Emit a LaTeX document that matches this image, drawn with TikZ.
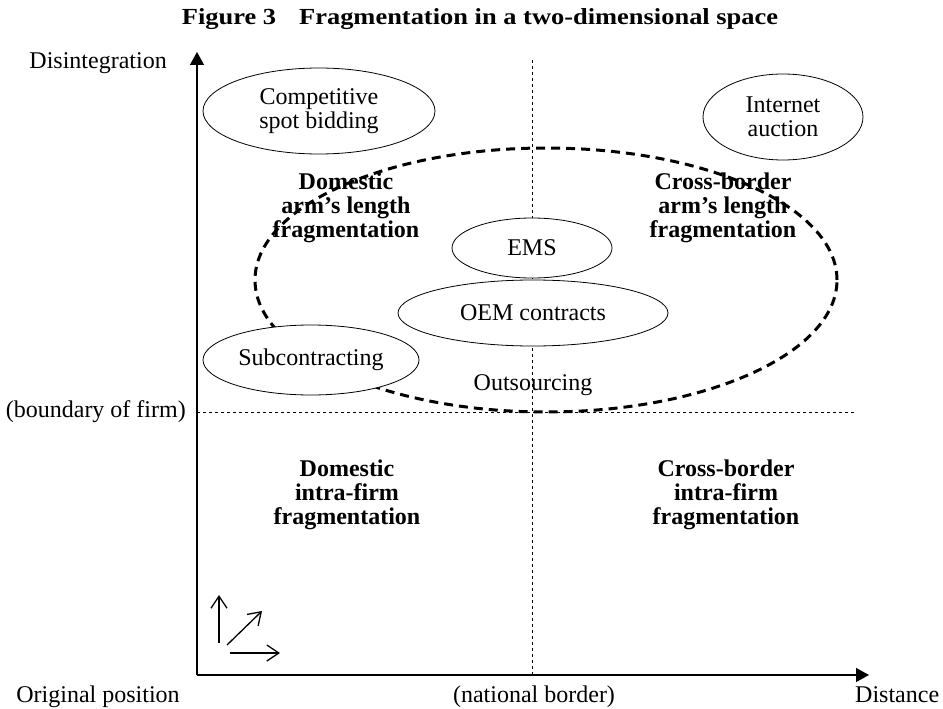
\documentclass[tikz,border=0pt]{standalone}
\usepackage{fontspec}
\setmainfont{Liberation Serif}
\newfontfamily\titlefont{Liberation Serif}[FakeStretch=1.15]
\usetikzlibrary{shapes.geometric,arrows.meta}

\begin{document}
\begin{tikzpicture}[x=1pt,y=-1pt,inner sep=0pt,
 font=\fontsize{24}{24}\selectfont,
 ell/.style={ellipse, draw, fill=white, line width=0.8pt, inner sep=1pt, align=center},
 lab/.style={font=\fontsize{24}{24}\selectfont\bfseries, align=center},
 guide/.style={line width=0.8pt, dash pattern=on 3pt off 3pt},
 axis/.style={line width=1.3pt, -{Triangle[length=13pt,width=14pt]}},
 dir/.style={line width=1.3pt, -{Straight Barb[length=12pt,width=16pt]}}]
 \useasboundingbox (0,0) rectangle (943,709);
 \node[font=\titlefont\fontsize{23}{23}\selectfont\bfseries, anchor=base] (T) at (480,25) {Figure 3\hspace{1em}Fragmentation in a two-dimensional space};

 \coordinate (O) at (197,675);
 \coordinate (Y) at (197,52);
 \coordinate (X) at (869,675);
 \coordinate (N1) at (532,60);
 \coordinate (N2) at (532,675);
 \coordinate (B1) at (197,412);
 \coordinate (B2) at (855,412);
 \draw[guide] (N1) -- (N2);
 \draw[guide] (B1) -- (B2);
 \draw[axis] (O) -- (Y);
 \draw[axis] (O) -- (X);

 \node[ellipse, draw, line width=3pt, dash pattern=on 9pt off 6pt, minimum width=582, minimum height=264] (OUT) at (546,280) {};
 \node[ell, minimum width=232, minimum height=86] (CSB) at (319,111) {Competitive\\spot bidding};
 \node[ell, minimum width=160, minimum height=86] (IA) at (783,117) {Internet\\auction};
 \node[ell, minimum width=160, minimum height=60] (EMS) at (532,248) {EMS};
 \node[ell, minimum width=270, minimum height=66] (OEM) at (533,313) {OEM contracts};
 \node[ell, minimum width=216, minimum height=70] (SUB) at (311,360) {Subcontracting};
 \node[anchor=base] (OS) at (533,390) {Outsourcing};

 \node[lab] (DA) at (346,208) {Domestic\\arm's length\\fragmentation};
 \node[lab] (CA) at (723,208) {Cross-border\\arm's length\\fragmentation};
 \node[lab] (DF) at (347,495) {Domestic\\intra-firm\\fragmentation};
 \node[lab] (CF) at (726,495) {Cross-border\\intra-firm\\fragmentation};

 \node[anchor=base east] (DI) at (167,69) {Disintegration};
 \node[anchor=base east] (BF) at (186,417) {(boundary of firm)};
 \node[anchor=base] (OP) at (98,702) {Original position};
 \node[anchor=base] (NB) at (534,702) {(national border)};
 \node[anchor=base west] (DS) at (855,702) {Distance};

 \coordinate (U1) at (219,643);
 \coordinate (U2) at (219,595);
 \coordinate (D1) at (227,645);
 \coordinate (D2) at (262,611);
 \coordinate (R1) at (230,653);
 \coordinate (R2) at (280,653);
 \draw[dir] (U1) -- (U2);
 \draw[dir] (D1) -- (D2);
 \draw[dir] (R1) -- (R2);
\end{tikzpicture}
\end{document}
